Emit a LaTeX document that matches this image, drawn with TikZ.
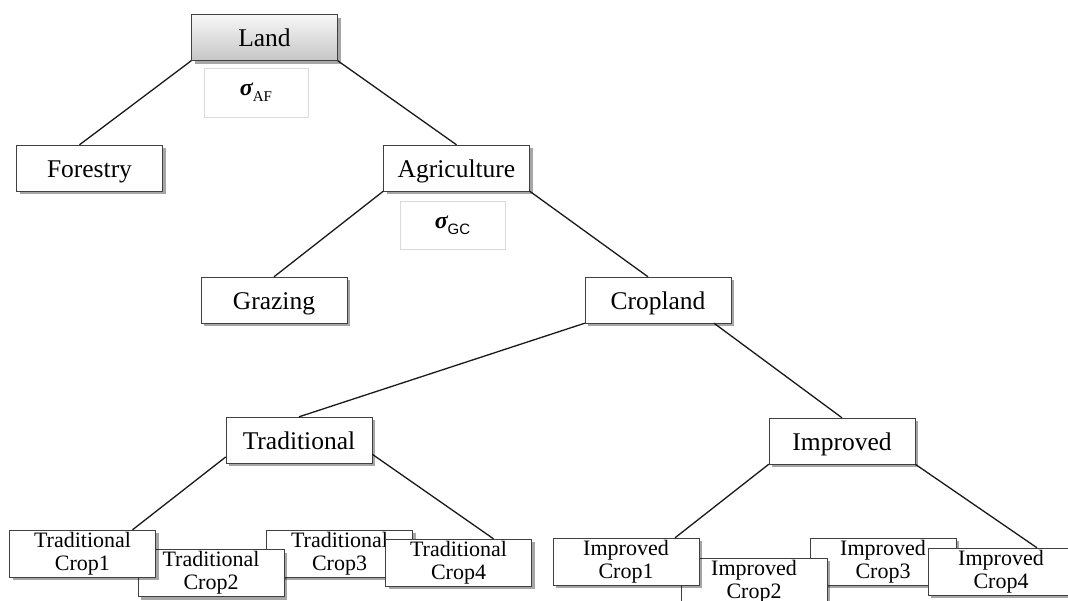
\documentclass[tikz,border=0pt]{standalone}
\usepackage{fontspec}
\setmainfont{Liberation Serif}
\newfontfamily\subsans{Liberation Sans}
\usetikzlibrary{calc,shadows}

\tikzset{
  basebox/.style={draw=black!75, fill=white, minimum width=146pt, inner sep=0pt,
    drop shadow={shadow xshift=3pt, shadow yshift=-3pt, opacity=0.35, fill=black}},
  box/.style={basebox, minimum height=46pt, text height=20pt, text depth=2pt,
    font=\fontsize{25.5}{28}\selectfont},
  cropbox/.style={basebox, minimum height=47pt, align=center, font=\fontsize{22}{23}\selectfont},
  sigbox/.style={draw=black!15, fill=white, minimum width=104pt, minimum height=48pt, inner sep=0pt},
  link/.style={draw=black!90, line width=1.3pt}
}
\newcommand{\elas}[2]{{\fontsize{24}{24}\selectfont\bfseries\itshape σ}\raisebox{-6pt}{\fontsize{15}{15}\selectfont #1#2}}

\begin{document}
\begin{tikzpicture}[x=1pt, y=-1pt]
  \useasboundingbox (0,0) rectangle (1068,600);

  % top levels
  \node[box, top color=gray!6, bottom color=gray!45] (land) at (264.5,37.5) {Land};
  \node[sigbox, minimum height=49pt] (sigaf) at (256,92.5) {\elas{}{AF}};
  \node[box] (forestry) at (89.5,168) {Forestry};
  \node[box] (agri) at (456.5,168) {Agriculture};
  \node[sigbox, minimum width=105pt] (siggc) at (452.5,225) {\elas{\subsans}{GC}};
  \node[box] (grazing) at (274,300) {Grazing};
  \node[box] (cropland) at (658,300) {Cropland};
  \node[box] (trad) at (299,440) {Traditional};
  \node[box] (impr) at (842,441) {Improved};

  % crops (drawn back to front)
  \node[cropbox] (tc3) at (339.5,553.5) {Traditional\\Crop3};
  \node[cropbox] (tc4) at (458.5,562.5) {Traditional\\Crop4};
  \node[cropbox] (tc2) at (211,573) {Traditional\\Crop2};
  \node[cropbox] (tc1) at (82.5,553.5) {Traditional\\Crop1};

  \node[cropbox] (ic3) at (883,561.5) {Improved\\Crop3};
  \node[cropbox] (ic4) at (1001,571.5) {Improved\\Crop4};
  \node[cropbox] (ic2) at (754,581.5) {Improved\\Crop2};
  \node[cropbox] (ic1) at (626,561.5) {Improved\\Crop1};

  % links
  \draw[link] (land.south west) -- ($(forestry.north)+(-10,0)$);
  \draw[link] (land.south east) -- (agri.north);
  \draw[link] (agri.south west) -- (grazing.north);
  \draw[link] (agri.south east) -- ($(cropland.north)+(-10,0)$);
  \draw[link] (cropland.south west) -- (trad.north);
  \draw[link] ($(cropland.south)+(56,0)$) -- (impr.north);
  \draw[link] (trad.193) -- ($(tc1.north)+(50,0)$);
  \draw[link] (trad.-11) -- ($(tc4.north)+(35,0)$);
  \draw[link] (impr.south west) -- ($(ic1.north)+(49,0)$);
  \draw[link] (impr.south east) -- ($(ic4.north)+(36,0)$);
\end{tikzpicture}
\end{document}
